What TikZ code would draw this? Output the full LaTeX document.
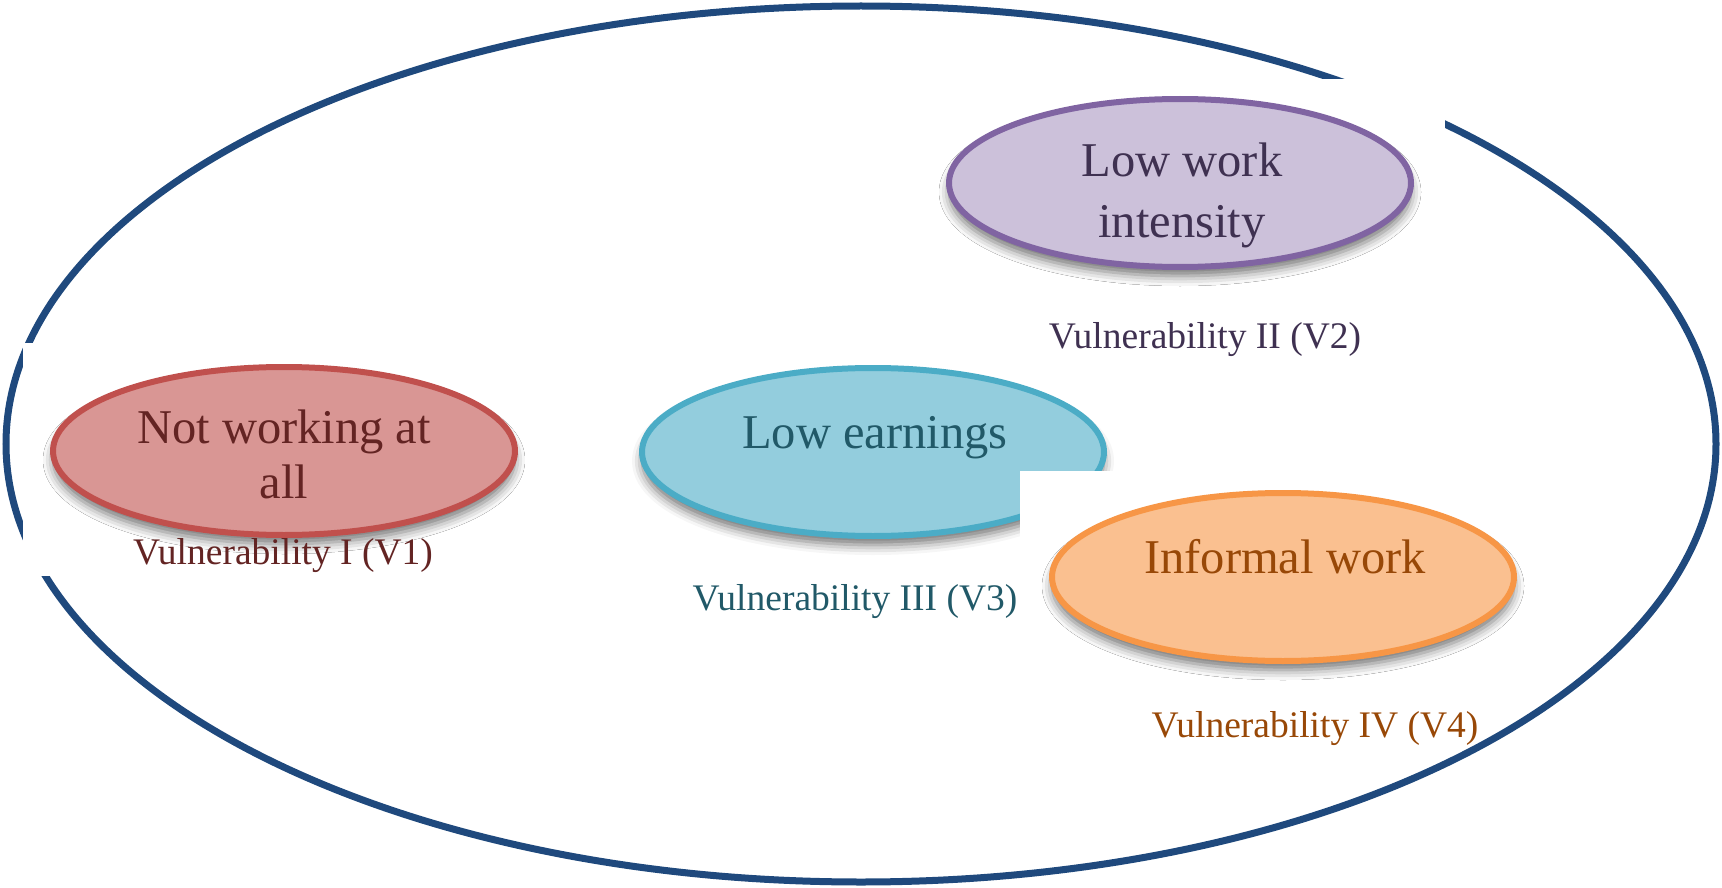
\documentclass[tikz,border=0pt]{standalone}
\usepackage{fontspec}
\setmainfont{Liberation Serif}
\usetikzlibrary{shapes.geometric,shadows.blur}

\definecolor{frameblue}{HTML}{1F497D}
\definecolor{redfill}{HTML}{D99694}
\definecolor{redline}{HTML}{C0504D}
\definecolor{redtext}{HTML}{632423}
\definecolor{purfill}{HTML}{CCC1DA}
\definecolor{purline}{HTML}{8064A2}
\definecolor{purtext}{HTML}{3F3151}
\definecolor{bluefill}{HTML}{93CDDD}
\definecolor{blueline}{HTML}{4BACC6}
\definecolor{bluetext}{HTML}{215968}
\definecolor{orgfill}{HTML}{FAC090}
\definecolor{orgline}{HTML}{F79646}
\definecolor{orgtext}{HTML}{984807}

\tikzset{
  bubble/.style={ellipse, minimum width=462pt, minimum height=168pt,
    inner sep=0pt, line width=6pt,
    blur shadow={shadow xshift=0pt, shadow yshift=-9pt,
      shadow blur radius=10pt, shadow opacity=55}},
  title/.style={anchor=base, inner sep=0pt, font=\fontsize{48.5}{58}\selectfont},
  tag/.style={anchor=base, inner sep=0pt, font=\fontsize{37.5}{45}\selectfont},
  groupbox/.style={fill=white, draw=none},
}

\begin{document}
\begin{tikzpicture}[x=1pt,y=-1pt]
\useasboundingbox (0,0) rectangle (1722,888);

% outer frame
\node[draw=frameblue, line width=7pt, ellipse, minimum width=1710pt,
  minimum height=876pt, inner sep=0pt] (frame) at (861,444) {};

% V1: not working at all
\path[groupbox] (23,343) rectangle (545,576);
\node[bubble, draw=redline, fill=redfill] (v1) at (284,451) {};
\node[title, text=redtext] (v1a) at (284,443) {Not working at};
\node[title, text=redtext] (v1b) at (284,498) {all};
\node[tag, text=redtext] (v1t) at (283,564) {Vulnerability I (V1)};

% V2: low work intensity
\path[groupbox] (930,79) rectangle (1445,365);
\node[bubble, draw=purline, fill=purfill] (v2) at (1180,183) {};
\node[title, text=purtext] (v2a) at (1182,177) {Low work};
\node[title, text=purtext] (v2b) at (1182,237) {intensity};
\node[tag, text=purtext] (v2t) at (1205,348) {Vulnerability II (V2)};

% V3: low earnings
\node[bubble, draw=blueline, fill=bluefill] (v3) at (873,452) {};
\node[title, text=bluetext] (v3a) at (875,448) {Low earnings};

% V4: informal work
\path[groupbox] (1020,471) rectangle (1530,700);
\node[bubble, draw=orgline, fill=orgfill] (v4) at (1283,577) {};
\node[title, text=orgtext] (v4a) at (1285,573) {Informal work};
\node[tag, text=orgtext] (v4t) at (1315,737) {Vulnerability IV (V4)};

\node[tag, text=bluetext] (v3t) at (855,610) {Vulnerability III (V3)};
\end{tikzpicture}
\end{document}
